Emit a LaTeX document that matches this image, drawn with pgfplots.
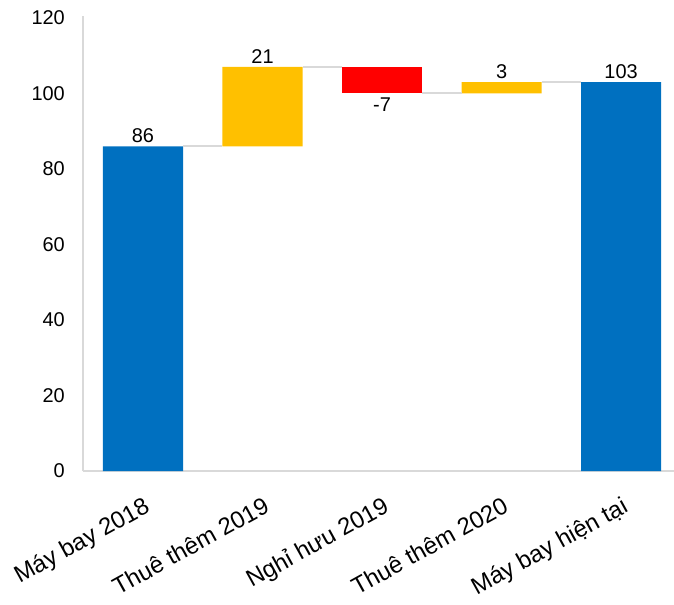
\documentclass[border=0pt]{standalone}
\usepackage{pgfplots}
\pgfplotsset{compat=1.18}
\usepackage{fontspec}
\setmainfont{Liberation Sans}
\definecolor{cblue}{HTML}{0070C0}
\definecolor{cyellow}{HTML}{FFC000}
\definecolor{cred}{HTML}{FF0000}
\definecolor{cgray}{HTML}{D9D9D9}
\pgfplotsset{
  common/.style={
    at={(0,0)}, anchor=south west,
    scale only axis, width=591bp, height=455bp,
    xmin=-0.502, xmax=4.443, ymin=0, ymax=120.5,
    clip=false,
  }
}
\begin{document}
\begin{tikzpicture}
\useasboundingbox (-83bp,-134bp) rectangle (591bp,471bp);
\begin{axis}[
  common,
  ybar stacked, bar width=0.67,
  axis x line=bottom, axis y line=left,
  axis line style={-, cgray, line width=1.5bp},
  major tick length=0pt,
  xtick={0,1,2,3,4},
  xticklabels={Máy bay 2018, Thuê thêm 2019, Nghỉ hưu 2019, Thuê thêm 2020, Máy bay hiện tại},
  ytick={0,20,...,120},
  /pgf/number format/assume math mode=true,
  yticklabel shift=18bp,
  xticklabel shift=25bp,
  yticklabel style={font=\fontsize{20}{24}\selectfont, text=black, anchor=east, inner sep=0pt},
  xticklabel style={font=\fontsize{24}{28}\selectfont, text=black, rotate=29, anchor=north east, inner sep=0pt, text height=17bp},
]
% invisible base
\addplot[draw=none, fill=none] coordinates {(0,0) (1,86) (2,100) (3,100) (4,0)};
% blue totals
\addplot[draw=none, fill=cblue] coordinates {(0,86) (1,0) (2,0) (3,0) (4,103)};
% yellow increases
\addplot[draw=none, fill=cyellow] coordinates {(0,0) (1,21) (2,0) (3,3) (4,0)};
% red decreases
\addplot[draw=none, fill=cred] coordinates {(0,0) (1,0) (2,7) (3,0) (4,0)};
\end{axis}
\begin{axis}[common, hide axis]
% connectors
\addplot[cgray, line width=2bp, forget plot] coordinates {(0.335,86) (0.665,86)};
\addplot[cgray, line width=2bp, forget plot] coordinates {(1.335,107) (1.665,107)};
\addplot[cgray, line width=2bp, forget plot] coordinates {(2.335,100) (2.665,100)};
\addplot[cgray, line width=2bp, forget plot] coordinates {(3.335,103) (3.665,103)};
% labels
\addplot[draw=none, mark=none, forget plot,
  point meta=explicit symbolic, nodes near coords,
  every node near coord/.append style={font=\fontsize{20}{24}\selectfont, text=black, anchor=south, inner sep=3bp}]
  coordinates {(0,86)[86] (1,107)[21] (3,103)[3] (4,103)[103]};
\addplot[draw=none, mark=none, forget plot,
  point meta=explicit symbolic, nodes near coords,
  every node near coord/.append style={font=\fontsize{20}{24}\selectfont, text=black, anchor=north, inner sep=4bp}]
  coordinates {(2,100)[-7]};
\end{axis}
\end{tikzpicture}
\end{document}
